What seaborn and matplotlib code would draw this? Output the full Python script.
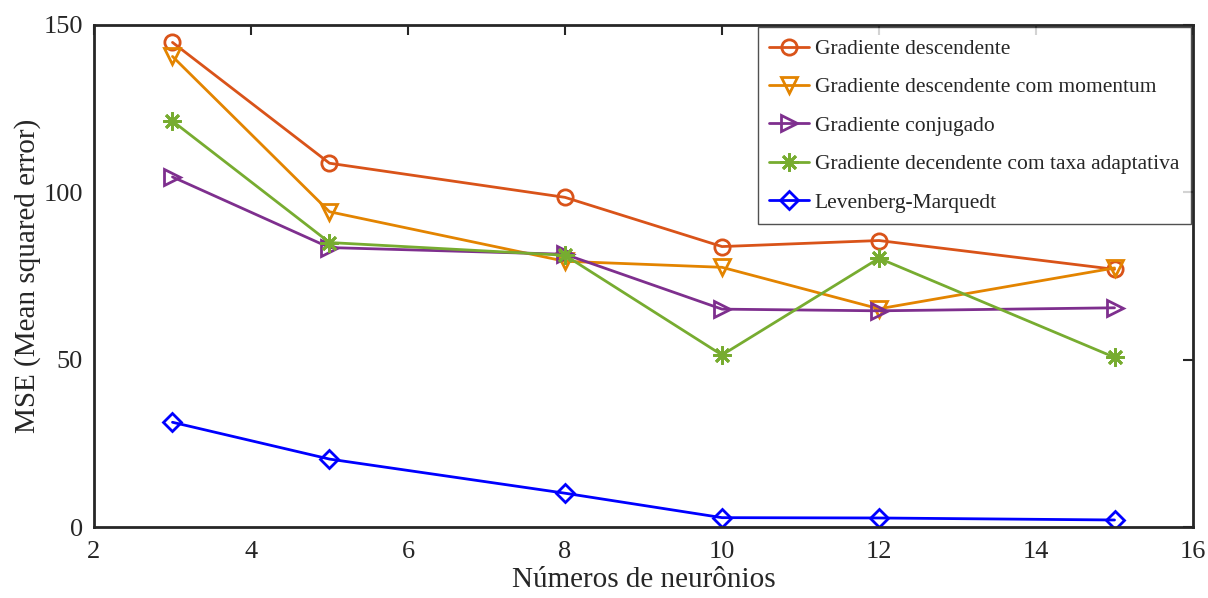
import numpy as np
import pandas as pd
import matplotlib
matplotlib.use('Agg')
import matplotlib.pyplot as plt
import seaborn as sns

neuronios = [3, 5, 8, 10, 12, 15]
grad_desc = [144.8, 108.7, 98.5, 83.8, 85.6, 77.0]
grad_momentum = [140.6, 94.2, 79.4, 77.6, 65.2, 77.4]
grad_conjugado = [104.6, 83.5, 81.5, 65.1, 64.6, 65.5]
grad_adaptativa = [121.3, 85.0, 81.2, 51.4, 80.3, 50.7]
levenberg = [31.3, 20.3, 10.1, 2.8, 2.7, 2.1]

series_names = ['Gradiente descendente',
                'Gradiente descendente com momentum',
                'Gradiente conjugado',
                'Gradiente decendente com taxa adaptativa',
                'Levenberg-Marquedt']
series_values = [grad_desc, grad_momentum, grad_conjugado, grad_adaptativa, levenberg]
colors = ['#D95319', '#E38400', '#7E2F8E', '#77AC30', '#0000FF']
markers = ['o', 'v', '>', '*', 'D']

sns.set_style('white')
plt.rcParams['font.family'] = ['Liberation Serif', 'DejaVu Serif']

df = pd.DataFrame()
for name, vals in zip(series_names, series_values):
    df = pd.concat([df, pd.DataFrame({'neuronios': neuronios, 'mse': vals, 'metodo': name})])

fig = plt.figure(figsize=(12.08, 5.98), dpi=100)
ax = fig.add_axes([0.0778, 0.1187, 0.9098, 0.8395])

for name, color, mk in zip(series_names, colors, markers):
    sub = df[df['metodo'] == name]
    if mk == '*':
        sns.lineplot(data=sub, x='neuronios', y='mse', ax=ax, color=color, lw=2,
                     marker=(8, 2, 0), markersize=13, markeredgewidth=2,
                     markeredgecolor=color, label=name)
    else:
        sns.lineplot(data=sub, x='neuronios', y='mse', ax=ax, color=color, lw=2,
                     marker=mk, markersize=11 if mk != 'D' else 9,
                     markerfacecolor='none', markeredgewidth=2,
                     markeredgecolor=color, label=name)

ax.set_xlim(2, 16)
ax.set_ylim(0, 150)
ax.set_xticks([2, 4, 6, 8, 10, 12, 14, 16])
ax.set_yticks([0, 50, 100, 150])
ax.tick_params(direction='in', length=7, width=1.5, labelsize=19, colors='#262626',
               top=True, right=True)
ax.tick_params(axis='x', pad=10)
ax.tick_params(axis='y', pad=8)
for s in ax.spines.values():
    s.set_linewidth(2)
    s.set_color('#262626')
ax.set_xlabel('Números de neurônios', fontsize=21, color='#262626', labelpad=3)
ax.set_ylabel('MSE (Mean squared error)', fontsize=21, color='#262626', labelpad=2)

leg = ax.legend(loc='upper right', fontsize=15.5, frameon=True, fancybox=False,
                edgecolor='#262626', handlelength=1.85, handletextpad=0.25,
                borderaxespad=0.1, labelspacing=0.85, borderpad=0.55)
leg.get_frame().set_linewidth(1)

fig.savefig('out.png', dpi=100)
